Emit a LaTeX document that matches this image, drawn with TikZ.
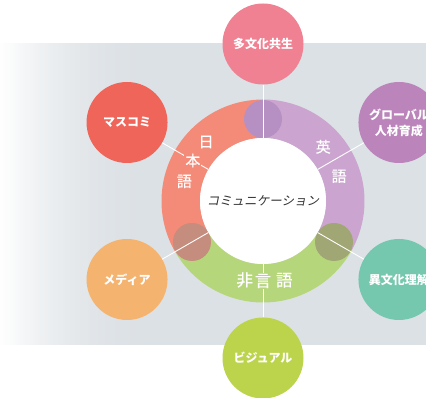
\documentclass[tikz,border=0pt]{standalone}
\usepackage{fontspec}
\usetikzlibrary{calc}
\newfontfamily\cjk{Noto Sans CJK JP}
\newfontfamily\cjkm[FakeBold=0.6]{Noto Sans CJK JP}
\newfontfamily\cjksl[FakeSlant=0.2]{Noto Sans CJK JP}
\definecolor{bggray}{HTML}{DCE1E5}
\definecolor{ringsalmon}{HTML}{F38B78}
\definecolor{ringpurple}{HTML}{CBA5CF}
\definecolor{ringgreen}{HTML}{B6D67C}
\definecolor{ovtop}{HTML}{B690C3}
\definecolor{ovleft}{HTML}{C48D7E}
\definecolor{ovright}{HTML}{A1A675}
\definecolor{cpink}{HTML}{F08192}
\definecolor{cred}{HTML}{F0655A}
\definecolor{cpurple}{HTML}{BB84BB}
\definecolor{corange}{HTML}{F5B370}
\definecolor{cteal}{HTML}{75C8AE}
\definecolor{cyellow}{HTML}{BCD44C}
\definecolor{coretext}{HTML}{333333}
\tikzset{
  bubble/.style={circle, minimum size=81pt, inner sep=0pt, text=white, align=center,
    font=\cjk\bfseries\fontsize{12}{16}\selectfont},
  overlap/.style={circle, minimum size=38pt, inner sep=0pt},
  conn/.style={draw=white, line width=0.9pt},
  ringchar/.style={text=white, inner sep=1pt, font=\cjkm\fontsize{15}{15}\selectfont},
  ringcharbig/.style={text=white, inner sep=1pt, font=\cjkm\fontsize{16.5}{16.5}\selectfont}
}
\begin{document}
\begin{tikzpicture}[x=1pt,y=1pt]
\useasboundingbox (0,0) rectangle (426,398);
\clip (0,0) rectangle (426,398);
\fill[white] (0,0) rectangle (426,398);
% background band with a smooth fade from white on the left
\fill[bggray] (150,53) rectangle (426,355);
\foreach \i in {0,...,59}{
  \pgfmathsetmacro{\t}{(\i+0.5)/60}
  \pgfmathsetmacro{\p}{100*\t*(2-\t)}
  \fill[bggray!\p!white] (\i*2.5,53) rectangle (\i*2.5+2.8,355);
}
\coordinate (c) at (263,197);
% ring sectors
\fill[ringsalmon] ($(c)+(90:101.5)$) arc[start angle=90, end angle=210, radius=101.5]
  -- ($(c)+(210:63)$) arc[start angle=210, end angle=90, radius=63] -- cycle;
\fill[ringgreen] ($(c)+(210:101.5)$) arc[start angle=210, end angle=330, radius=101.5]
  -- ($(c)+(330:63)$) arc[start angle=330, end angle=210, radius=63] -- cycle;
\fill[ringpurple] ($(c)+(-30:101.5)$) arc[start angle=-30, end angle=90, radius=101.5]
  -- ($(c)+(90:63)$) arc[start angle=90, end angle=-30, radius=63] -- cycle;
% overlap circles
\node[overlap, fill=ovtop] (ova) at ($(c)+(90:82)$) {};
\node[overlap, fill=ovleft] (ovb) at ($(c)+(210:82)$) {};
\node[overlap, fill=ovright] (ovc) at ($(c)+(330:82)$) {};
% core
\node[circle, fill=white, minimum size=126pt, inner sep=0pt, text=coretext,
  font=\cjksl\fontsize{12.5}{14}\selectfont] (core) at (c) {コミュニケーション};
% outer bubbles
\node[bubble, fill=cpink] (o1) at ($(c)+(90:157)$) {多文化共生};
\node[bubble, fill=cpurple] (o2) at ($(c)+(30:157)$) {グローバル\\人材育成};
\node[bubble, fill=cred] (o3) at ($(c)+(150:157)$) {マスコミ};
\node[bubble, fill=corange] (o4) at ($(c)+(210:157)$) {メディア};
\node[bubble, fill=cteal] (o5) at ($(c)+(330:157)$) {異文化理解};
\node[bubble, fill=cyellow] (o6) at ($(c)+(270:157)$) {ビジュアル};
% connectors
\draw[conn] (core) -- (o1);
\draw[conn] (core) -- (o2);
\draw[conn] (core) -- (o3);
\draw[conn] (core) -- (o4);
\draw[conn] (core) -- (o5);
\draw[conn] (core) -- (o6);
% ring labels
\node[ringchar] (j1) at ($(c)+(134:82)$) {日};
\node[ringchar, fill=ringsalmon] (j2) at ($(c)+(150:81)$) {本};
\node[ringchar] (j3) at ($(c)+(166:81)$) {語};
\node[ringchar] (e1) at ($(c)+(42:81)$) {英};
\node[ringchar] (e2) at ($(c)+(18:80)$) {語};
\node[ringcharbig] (n1) at ($(c)+(257:81)$) {非};
\node[ringcharbig, fill=ringgreen] (n2) at ($(c)+(270:80)$) {言};
\node[ringcharbig] (n3) at ($(c)+(285:82)$) {語};
\end{tikzpicture}
\end{document}
